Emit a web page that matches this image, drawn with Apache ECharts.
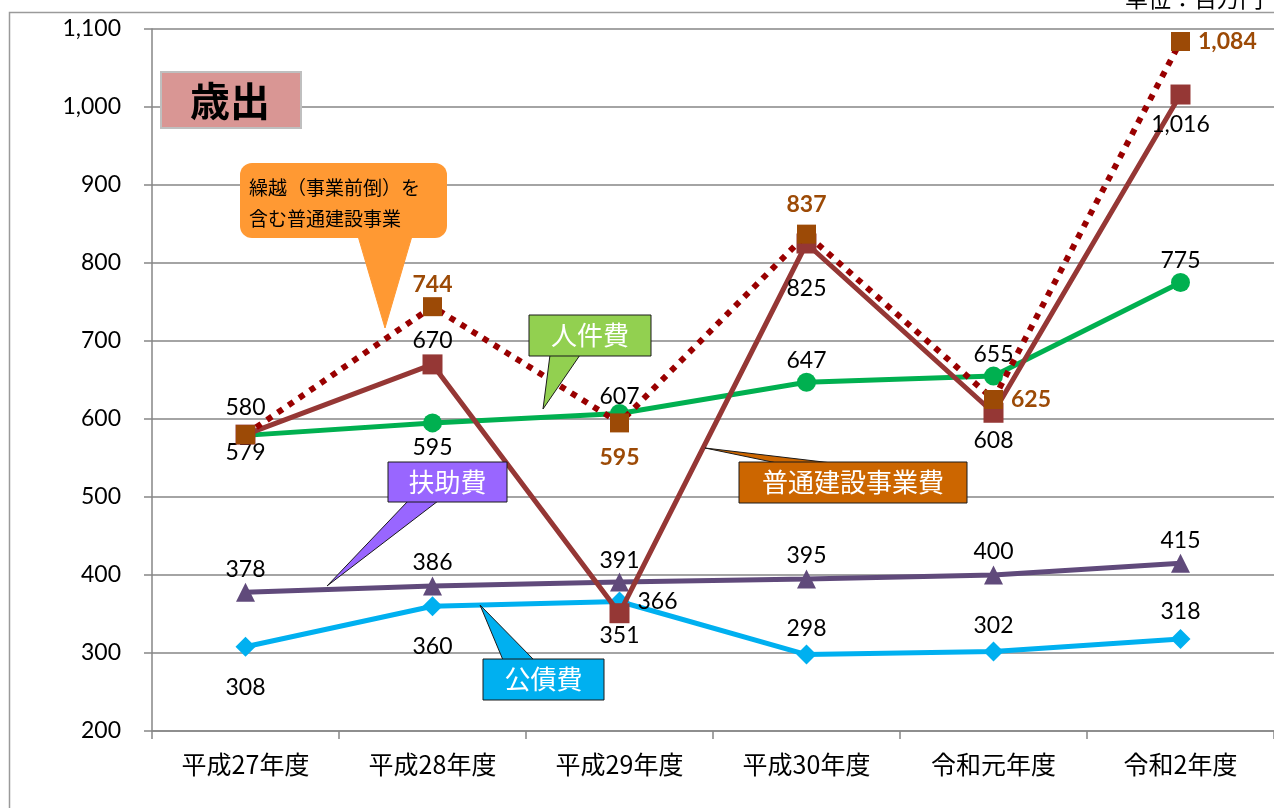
<!DOCTYPE html>
<html>
<head>
<meta charset="utf-8">
<script src="https://cdn.jsdelivr.net/npm/echarts@6/dist/echarts.min.js"></script>
<style>
  html, body { margin: 0; padding: 0; background: #fff; }
  #chart { width: 1274px; height: 808px; }
</style>
</head>
<body>
<div id="chart"></div>
<script>
// 年度
const years = ['平成27年度', '平成28年度', '平成29年度', '平成30年度', '令和元年度', '令和2年度'];
// 百万円
const kurikoshiKensetsu = [580, 744, 595, 837, 625, 1084]; // 繰越（事業前倒）を含む普通建設事業
const kensetsu = [580, 670, 351, 825, 608, 1016];           // 普通建設事業費
const jinken = [579, 595, 607, 647, 655, 775];              // 人件費
const fujo = [378, 386, 391, 395, 400, 415];                // 扶助費
const kosai = [308, 360, 366, 298, 302, 318];               // 公債費

const yTicks = { min: 200, max: 1100, interval: 100 };

const numFont = 'Lato, "Noto Sans CJK JP", sans-serif';
const jpFont = '"Noto Sans CJK JP", sans-serif';

const fmt = (p) => Number(p.value).toLocaleString('en-US');

// label position per point
function withLabels(values, positions, extra) {
  return values.map((v, i) => {
    const pos = positions[i];
    if (!pos) return { value: v, label: { show: false } };
    return { value: v, label: Object.assign({ show: true, position: pos[0], distance: pos[1] }, extra || {}) };
  });
}

const chart = echarts.init(document.getElementById('chart'));

const baseLabel = {
  show: true,
  color: '#000',
  fontSize: 23,
  fontFamily: numFont,
  formatter: fmt,
};

// callout: box + pointer triangle
function callout(rect, tri, fill, text, opt) {
  opt = opt || {};
  return [
    {
      type: 'polygon',
      z: 100,
      shape: { points: tri },
      style: { fill: fill, stroke: opt.stroke || '#1a1a1a', lineWidth: 1 },
    },
    {
      type: 'rect',
      z: 101,
      shape: { x: rect[0], y: rect[1], width: rect[2], height: rect[3], r: opt.r || 0 },
      style: { fill: fill, stroke: opt.noBorder ? null : (opt.stroke || '#1a1a1a'), lineWidth: 1 },
    },
    {
      type: 'text',
      z: 102,
      style: {
        x: opt.tx != null ? opt.tx : rect[0] + rect[2] / 2,
        y: opt.ty != null ? opt.ty : rect[1] + rect[3] / 2,
        text: text,
        fill: opt.color || '#fff',
        font: opt.font || ('26px ' + jpFont),
        align: opt.align || 'center',
        verticalAlign: opt.valign || 'middle',
        lineHeight: opt.lineHeight,
      },
    },
  ];
}

const graphics = [
  // 外枠
  {
    type: 'rect',
    z: -1,
    shape: { x: 9.5, y: 12.5, width: 1300, height: 900 },
    style: { fill: null, stroke: '#9a9a9a', lineWidth: 1.5 },
  },
  {
    type: 'text',
    style: { x: 1125, y: -13, text: '単位：百万円', font: '23px ' + jpFont, fill: '#000', verticalAlign: 'top' },
  },
  // 歳出
  {
    type: 'rect',
    z: 100,
    shape: { x: 161, y: 72, width: 140, height: 56 },
    style: { fill: '#d99694', stroke: '#bfbfbf', lineWidth: 2 },
  },
  {
    type: 'text',
    z: 101,
    style: { x: 230, y: 101, text: '歳出', font: 'bold 40px ' + jpFont, fill: '#000', align: 'center', verticalAlign: 'middle' },
  },
]
  .concat(callout([240, 163, 207, 75], [[358, 236], [412, 236], [385, 328]], '#ff9933', '繰越（事業前倒）を\n含む普通建設事業',
    { r: 12, noBorder: true, stroke: '#ff9933', color: '#000', font: '19px ' + jpFont, align: 'left', valign: 'middle', tx: 249, ty: 203, lineHeight: 31 }))
  .concat(callout([529, 315, 122, 41], [[550, 355], [580, 355], [543, 409]], '#92d050', '人件費'))
  .concat(callout([388, 462, 119, 40], [[408, 501], [438, 501], [327, 586]], '#9966ff', '扶助費'))
  .concat(callout([483, 659, 121, 41], [[503, 660], [534, 660], [480, 605]], '#00b0f0', '公債費'))
  .concat(callout([739, 462, 228, 41], [[777, 463], [832, 463], [705, 448]], '#cc6600', '普通建設事業費'));

const option = {
  animation: false,
  backgroundColor: '#fff',
  grid: { left: 152, top: 29, width: 1126, height: 702, containLabel: false },
  xAxis: {
    type: 'category',
    data: years,
    boundaryGap: true,
    axisLine: { lineStyle: { color: '#868686', width: 1.5 } },
    axisTick: { show: true, length: 8, lineStyle: { color: '#868686', width: 1.5 } },
    axisLabel: { color: '#000', fontSize: 25, fontFamily: jpFont, margin: 21 },
  },
  yAxis: {
    type: 'value',
    min: yTicks.min,
    max: yTicks.max,
    interval: yTicks.interval,
    axisLine: { show: true, lineStyle: { color: '#868686', width: 1.5 } },
    axisTick: { show: true, length: 8, inside: false, lineStyle: { color: '#868686', width: 1.5 } },
    splitLine: { lineStyle: { color: '#868686', width: 1.5 } },
    axisLabel: {
      color: '#000',
      fontSize: 23,
      fontFamily: numFont,
      margin: 31,
      formatter: (v) => v.toLocaleString('en-US'),
    },
  },
  series: [
    {
      name: '人件費',
      type: 'line',
      z: 3,
      data: withLabels(jinken, [['bottom', -4], ['bottom', 4], ['top', -4], ['top', 1], ['top', 1], ['top', 1]]),
      lineStyle: { color: '#00b050', width: 5 },
      itemStyle: { color: '#00b050' },
      symbol: 'circle',
      symbolSize: 19,
      label: baseLabel,
    },
    {
      name: '扶助費',
      type: 'line',
      z: 3,
      data: withLabels(fujo, [['top', 2], ['top', 2], ['top', 0], ['top', 2], ['top', 2], ['top', 2]]),
      lineStyle: { color: '#604a7b', width: 5 },
      itemStyle: { color: '#604a7b' },
      symbol: 'triangle',
      symbolSize: 19,
      label: baseLabel,
    },
    {
      name: '公債費',
      type: 'line',
      z: 3,
      data: withLabels(kosai, [['bottom', 19], ['bottom', 19], ['right', 8], ['top', 4], ['top', 4], ['top', 6]]),
      lineStyle: { color: '#00b0f0', width: 5 },
      itemStyle: { color: '#00b0f0' },
      symbol: 'diamond',
      symbolSize: 20,
      label: baseLabel,
    },
    {
      name: '普通建設事業費',
      type: 'line',
      z: 4,
      data: withLabels(kensetsu, [['top', 6], ['top', 2], ['bottom', 1], ['bottom', 24], ['bottom', 6], ['bottom', 9]]),
      lineStyle: { color: '#953735', width: 5 },
      itemStyle: { color: '#953735' },
      symbol: 'rect',
      symbolSize: 20,
      label: baseLabel,
    },
    {
      name: '繰越（事業前倒）を含む普通建設事業',
      type: 'line',
      z: 5,
      data: withLabels(kurikoshiKensetsu, [null, ['top', 1], ['bottom', 14], ['top', 9], ['right', 8], ['right', 8]]),
      lineStyle: { color: '#990000', width: 6, type: [6, 7], cap: 'butt' },
      itemStyle: { color: '#9c4a06' },
      symbol: 'rect',
      symbolSize: 19,
      label: Object.assign({}, baseLabel, { color: '#9c4a06', fontWeight: 'bold' }),
    },
  ],
  graphic: graphics,
};

chart.setOption(option);
</script>
</body>
</html>
